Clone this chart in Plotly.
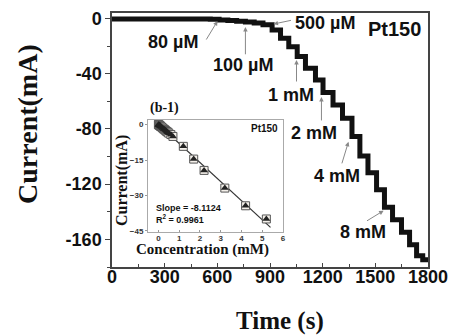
import numpy as np
import plotly.graph_objects as go

# ---- main amperometric curve (time in s, current in mA); hv steps ----
time_s = [0, 560, 610, 660, 710, 760, 810, 860, 912, 960, 1007, 1055, 1102, 1159,
          1202, 1259, 1313, 1367, 1412, 1458, 1507, 1552, 1598, 1649, 1695, 1735,
          1770, 1800]
current_mA = [-0.3, -0.6, -1.0, -1.5, -2.0, -2.6, -3.3, -4.5, -8.3, -14.3, -20.4,
              -27.6, -36.0, -44.5, -53.5, -62.6, -72.3, -85.5, -99.5, -111.8, -124.1,
              -136.7, -145.8, -154.8, -163.9, -171.8, -174.7, -174.7]

x_ticks = [0, 300, 600, 900, 1200, 1500, 1800]
y_ticks = [0, -40, -80, -120, -160]

# ---- inset calibration data ----
conc_mM = [0, 0.02, 0.04, 0.06, 0.08, 0.1, 0.15, 0.2, 0.25, 0.3, 0.35, 0.4, 0.45,
           0.5, 0.6, 0.7, 1.2, 1.7, 2.2, 3.2, 4.2, 5.2]
inset_current = [0, -0.1, -0.2, -0.3, -0.5, -0.7, -1.0, -1.4, -1.8, -2.1, -2.5, -2.9,
                 -3.2, -3.6, -4.2, -5.0, -9.2, -14.6, -19.4, -26.9, -34.4, -40.0]
fit_range = [-0.2, 5.4]
inset_x_ticks = [0, 1, 2, 3, 4, 5, 6]
inset_y_ticks = [0, -15, -30, -45]

coef = np.polyfit(conc_mM, inset_current, 1)
fit_y = np.polyval(coef, fit_range)

fig = go.Figure()
fig.add_trace(go.Scatter(x=time_s, y=current_mA, mode="lines", line_shape="hv",
                         line=dict(color="#111", width=5), showlegend=False))

fig.add_trace(go.Scatter(x=fit_range, y=fit_y, mode="lines", xaxis="x2", yaxis="y2",
                         line=dict(color="#333", width=1.2), showlegend=False))
fig.add_trace(go.Scatter(x=conc_mM, y=inset_current, mode="markers", xaxis="x2", yaxis="y2",
                         marker=dict(symbol="square", size=8, color="#f4f0ea",
                                     line=dict(color="#555", width=1)), showlegend=False))
fig.add_trace(go.Scatter(x=conc_mM, y=inset_current, mode="markers", xaxis="x2", yaxis="y2",
                         marker=dict(symbol="triangle-up", size=7, color="#222"),
                         showlegend=False))


def bf(family, size, color="#111"):
    return dict(family=family, size=size, color=color, weight="bold")


tickfont = bf("Liberation Sans", 18)
# the page body adds an 8px offset, so the figure is 8px smaller and margins shifted
fig.update_layout(
    width=448, height=328,
    margin=dict(l=104, r=28, t=5, b=69),
    paper_bgcolor="white", plot_bgcolor="white",
    font=dict(family="Liberation Sans"),
    xaxis=dict(range=[0, 1800], tickvals=x_ticks, ticktext=[str(v) for v in x_ticks],
               ticks="inside", ticklen=4, tickcolor="#444", showgrid=False, zeroline=False,
               showline=True, linecolor="#444", linewidth=1.5, mirror=True,
               tickfont=tickfont, automargin=False, ticklabelstandoff=-7,
               minor=dict(dtick=150, ticks="inside", ticklen=3, tickcolor="#444"),
               domain=[0, 1]),
    yaxis=dict(range=[-180, 4], tickvals=y_ticks, ticktext=[str(v) for v in y_ticks],
               ticks="outside", ticklen=5, tickcolor="#444", showgrid=False, zeroline=False,
               showline=True, linecolor="#444", linewidth=1.5, mirror=True,
               tickfont=tickfont, automargin=False,
               minor=dict(dtick=20, ticks="outside", ticklen=3, tickcolor="#444"),
               domain=[0, 1]),
    xaxis2=dict(domain=[0.114, 0.541], anchor="y2", range=[-0.5, 6],
                tickvals=inset_x_ticks, ticks="inside", ticklen=2, tickcolor="#999",
                showgrid=False, zeroline=False, showline=True, linecolor="#aaa",
                linewidth=1, mirror=True, automargin=False, ticklabelstandoff=-2,
                tickfont=bf("Liberation Sans", 8, "#333")),
    yaxis2=dict(domain=[0.138, 0.579], anchor="x2", range=[-45.5, 2],
                tickvals=inset_y_ticks, ticks="outside", ticklen=2, tickcolor="#999",
                showgrid=False, zeroline=False, showline=True, linecolor="#aaa",
                linewidth=1, mirror=True, automargin=False,
                tickfont=bf("Liberation Sans", 8, "#333")),
)

# gray arrows (tail -> head in data coords)
arrows = [
    (532, -16.3, 601, -1.8),
    (760, -27.0, 760, -6.1),
    (1028, -1.1, 920, -4.0),
    (1051, -46.7, 1051, -30.0),
    (1193, -74.9, 1193, -56.8),
    (1307, -106.0, 1347, -89.3),
    (1444, -147.2, 1547, -139.2),
]
for ax_, ay_, x_, y_ in arrows:
    fig.add_annotation(x=x_, y=y_, ax=ax_, ay=ay_, xref="x", yref="y", axref="x", ayref="y",
                       text="", showarrow=True, arrowhead=2, arrowsize=0.9, arrowwidth=1,
                       arrowcolor="#888")


def txt(x, y, text, font, xref="x", yref="y", angle=0, xanchor="center"):
    fig.add_annotation(x=x, y=y, xref=xref, yref=yref, text=text, showarrow=False,
                       xanchor=xanchor, yanchor="middle", textangle=angle, font=font)


labels = [
    ("80 µM", 350, -17.0),
    ("100 µM", 749, -33.6),
    ("500 µM", 1216, -3.3),
    ("1 mM", 1017, -55.3),
    ("2 mM", 1153, -82.8),
    ("4 mM", 1279, -113.9),
    ("8 mM", 1427, -154.4),
]
for t_, x_, y_ in labels:
    txt(x_, y_, t_, bf("Liberation Sans", 18))

txt(1609, -7.6, "Pt150", bf("Liberation Sans", 20))

# inset texts
txt(5.1, -1.7, "Pt150", bf("Liberation Sans", 10), "x2", "y2")
txt(-0.2, -35.3, "Slope = -8.1124", bf("Liberation Sans", 9), "x2", "y2", xanchor="left")
txt(-0.2, -40.0, "R<sup>2</sup> = 0.9961", bf("Liberation Sans", 9), "x2", "y2", xanchor="left")
txt(0.165, 0.626, "(b-1)", bf("Liberation Serif", 14), "paper", "paper")
txt(0.032, 0.339, "Current(mA)", bf("Liberation Serif", 16), "paper", "paper", angle=-90)
txt(0.285, 0.067, "Concentration (mM)", bf("Liberation Serif", 15), "paper", "paper")

# main axis titles
txt(-0.266, 0.563, "Current(mA)", bf("Liberation Serif", 28), "paper", "paper", angle=-90)
txt(0.532, -0.2126, "Time (s)", bf("Liberation Serif", 25), "paper", "paper")

fig.write_html("out.html")
